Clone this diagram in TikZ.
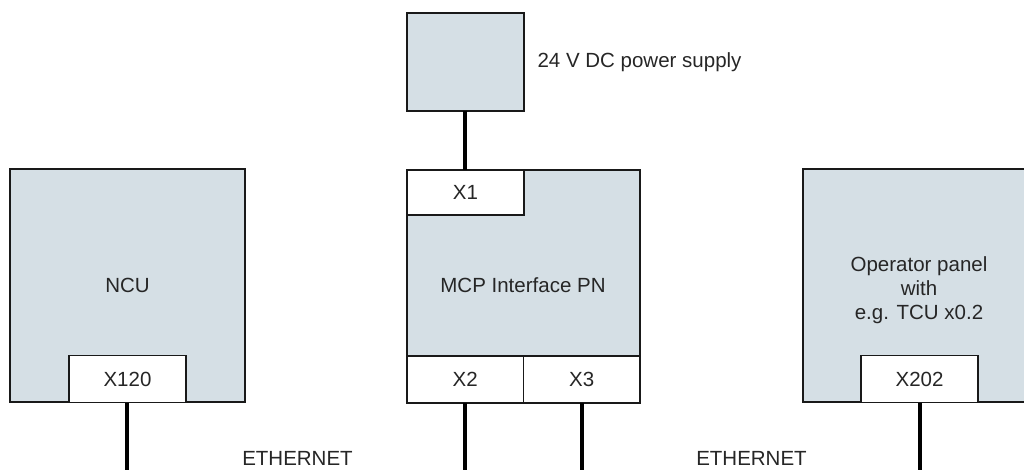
\documentclass[tikz,border=0pt]{standalone}
\usepackage{fontspec}
\setmainfont{Liberation Sans}
\definecolor{boxfill}{RGB}{213,223,229}
\begin{document}
\begin{tikzpicture}[x=1pt,y=-1pt,
  every node/.style={font=\fontsize{20.5}{24}\selectfont, text=black!85},
  unit/.style={draw=black!90, line width=1.4pt, fill=boxfill, inner sep=0pt, outer sep=0pt, rectangle},
  port/.style={draw=black!90, line width=1.4pt, fill=white, inner sep=0pt, outer sep=0pt, rectangle, minimum width=117pt, minimum height=47pt},
  cable/.style={line width=4.5pt, black}]
\useasboundingbox (0,0) rectangle (1024,470);
\clip (0,0) rectangle (1024,470);
% power supply
\node[unit, minimum width=117pt, minimum height=98pt] (ps) at (465.5,62) {};
\node[anchor=west] (pslbl) at (534,62) {24 V DC power supply};
% NCU
\node[unit, minimum width=235pt, minimum height=233pt] (ncu) at (127.5,285.5) {};
\node (ncutxt) at (127.5,285) {NCU};
\node[port] (x120) at (127.5,379) {X120};
% MCP
\node[unit, minimum width=233pt, minimum height=233pt] (mcp) at (523.5,286.5) {};
\node (mcptxt) at (523,285) {MCP Interface PN};
\node[port, minimum height=45pt] (x1) at (465.5,192.5) {X1};
\node[port, minimum width=116.5pt] (x2) at (465.25,379.5) {X2};
\node[port, minimum width=116.5pt] (x3) at (581.75,379.5) {X3};
% operator panel
\node[unit, minimum width=235pt, minimum height=233pt] (op) at (920.5,285.5) {};
\node[align=center] (optxt) at (919,290) {Operator panel\\with\\e.g. TCU x0.2};
\node[port] (x202) at (919.5,379) {X202};
% connectors
\coordinate (e120) at (127,470);
\coordinate (e2) at (465,470);
\coordinate (e3) at (582,470);
\coordinate (e202) at (920,470);
\draw[cable] (ps.south -| 465,0) -- (x1.north -| 465,0);
\draw[cable] (x120.south -| e120) -- (e120);
\draw[cable] (x2.south -| e2) -- (e2);
\draw[cable] (x3.south -| e3) -- (e3);
\draw[cable] (x202.south -| e202) -- (e202);
% labels
\node (eth1) at (297.5,458.5) {ETHERNET};
\node (eth2) at (751.5,458.5) {ETHERNET};
\end{tikzpicture}
\end{document}
